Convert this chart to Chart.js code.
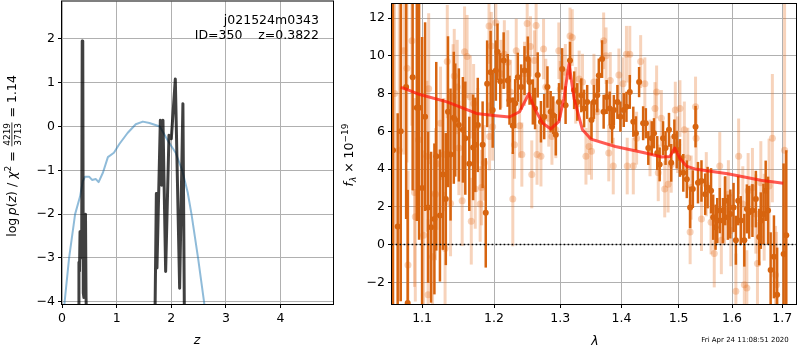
<!DOCTYPE html>
<html>
<head>
<meta charset="utf-8">
<script src="https://cdn.jsdelivr.net/npm/chart.js@4.4.1/dist/chart.umd.min.js"></script>
<style>
html, body { margin: 0; padding: 0; background: #fff; }
#wrap { position: relative; width: 800px; height: 350px; }
#pz { position: absolute; left: 0; top: 0; }
#sp { position: absolute; left: 340px; top: 0; }
</style>
</head>
<body>
<div id="wrap">
<canvas id="pz" width="340" height="350"></canvas>
<canvas id="sp" width="460" height="350"></canvas>
</div>
<script>
// left panel: log p(z)
const zPrior = [0.04, 0.13, 0.24, 0.33, 0.38, 0.42, 0.50, 0.55, 0.62, 0.67, 0.75, 0.84, 0.95, 1.05, 1.20, 1.35, 1.48, 1.60, 1.79, 1.95, 2.08, 2.20, 2.30, 2.37, 2.49, 2.60, 2.65];
const pPrior = [-4.1, -3.0, -2.0, -1.6, -1.25, -1.15, -1.15, -1.22, -1.2, -1.27, -1.05, -0.7, -0.6, -0.4, -0.15, 0.05, 0.11, 0.08, 0.0, -0.35, -0.6, -1.0, -1.5, -2.0, -3.0, -4.0, -4.6];

const zFit = [0.30, 0.31, 0.32, 0.33, 0.34, 0.36, 0.37, 0.38, 0.39, 0.40, 0.41, 0.42, 0.43, 0.44, 0.46, 1.0,
              1.696, 1.727, 1.738, 1.80, 1.824, 1.848, 1.897, 1.958, 2.001, 2.074, 2.153, 2.213, 2.244];
const pFit = [-5, -3.1, -3.3, -2.4, -3.0, -2.8, 1.95, 1.9, -3.8, -3.9, -2.5, -3.8, -2.0, -3.9, -5, null,
              -5, -1.53, -3.23, 0.14, -1.34, 0.14, -3.31, -0.2, -0.28, 1.08, -3.69, 0.52, -5];

const zTicks = [0, 1, 2, 3, 4];
const pTicks = [-4, -3, -2, -1, 0, 1, 2];

// right panel: spectrum
const lamA = [1.062, 1.068, 1.072, 1.079, 1.081, 1.0875, 1.093, 1.096, 1.100, 1.104, 1.108, 1.112, 1.1165, 1.119, 1.124, 1.128, 1.132, 1.135, 1.1385, 1.143,
  1.145, 1.150, 1.1556, 1.159, 1.1646, 1.170, 1.173, 1.1766, 1.1835, 1.188, 1.190, 1.195, 1.198, 1.2026, 1.205, 1.209, 1.214, 1.220, 1.2226, 1.2275,
  1.231, 1.235, 1.240, 1.245, 1.250, 1.2526, 1.2576, 1.261, 1.265, 1.270, 1.275, 1.280, 1.285, 1.289, 1.293, 1.298, 1.303, 1.3084, 1.3154, 1.322,
  1.327, 1.3335, 1.338, 1.343, 1.350, 1.354, 1.3595, 1.362, 1.3674, 1.370, 1.375, 1.380, 1.384, 1.387, 1.393, 1.398, 1.4037, 1.4083, 1.414, 1.420,
  1.4245, 1.430, 1.437, 1.4417, 1.446, 1.452, 1.456, 1.4617, 1.466, 1.472, 1.4765, 1.4826, 1.4866, 1.4923, 1.4965, 1.5024, 1.5085, 1.5149, 1.521, 1.526,
  1.531, 1.5355, 1.542, 1.549, 1.5535, 1.560, 1.564, 1.5685, 1.5717, 1.5765, 1.5825, 1.587, 1.592, 1.5967, 1.603, 1.6075, 1.612, 1.617, 1.624, 1.629,
  1.6335, 1.640, 1.6468, 1.6535, 1.6567, 1.662, 1.6665, 1.6713, 1.6765, 1.6832, 1.6897, 1.703, 1.7085];
const fluxA = [5.0, 0.96, 6.0, 8.35, -3.1, 8.87, 7.25, 7.25, 3.0, 6.78, 1.97, 0.92, 1.36, 4.68, 1.54, 3.72, 2.41, 7.04, 4.77, 6.72,
  6.6, 6.34, 6.08, 5.64, 4.28, 5.15, 5.29, 6.34, 5.29, 1.68, 8.52, 9.13, 7.13, 9.22, 10.22, 8.65, 9.75, 8.7, 7.65, 6.3,
  7.47, 8.87, 8.35, 9.22, 9.83, 8.61, 7.56, 7.21, 8.99, 6.51, 6.78, 8.35, 7.04, 6.86, 5.82, 7.56, 9.31, 7.39, 9.75, 8.18,
  7.56, 7.91, 7.21, 7.56, 6.6, 7.56, 7.91, 8.96, 9.83, 7.04, 7.82, 7.21, 6.25, 7.13, 7.56, 6.78, 7.13, 7.3, 8.09, 6.51,
  5.9, 8.61, 6.43, 6.43, 5.12, 5.64, 5.9, 4.85, 4.25, 5.64, 5.12, 6.08, 4.33, 5.73, 5.03, 4.59, 3.8, 3.46, 1.97, 2.94,
  6.25, 3.28, 3.37, 2.67, 3.02, 2.85, 1.45, 0.92, 1.27, 1.8, 1.27, 2.32, 1.45, 1.62, 1.97, 0.23, 2.32, 1.27, 0.23, 1.89,
  1.71, 1.8, 2.41, 0.4, 1.27, 1.62, 2.85, 1.8, -1.35, -0.65, -2.66, -0.5, 0.5];
const errA = [9.0, 6.0, 9.0, 7.0, 6.0, 6.0, 6.0, 7.0, 8.0, 5.0, 4.0, 4.0, 4.0, 5.0, 3.5, 4.0, 3.5, 4.0, 3.5, 3.5,
  3.0, 3.0, 2.8, 3.0, 2.5, 2.8, 2.5, 2.5, 2.3, 2.9, 2.3, 2.2, 2.0, 1.6, 1.5, 1.5, 1.5, 1.4, 1.3, 1.5,
  1.3, 1.3, 1.2, 1.3, 1.2, 1.2, 1.2, 1.1, 1.2, 1.1, 1.2, 1.1, 1.1, 1.0, 1.1, 1.0, 1.1, 1.0, 1.0, 1.0,
  1.0, 0.9, 1.0, 0.9, 1.0, 0.9, 0.9, 0.9, 1.0, 0.9, 0.9, 0.9, 0.9, 0.8, 0.9, 0.8, 0.9, 0.8, 0.9, 0.8,
  0.9, 0.8, 0.9, 0.8, 0.9, 0.9, 0.8, 0.9, 0.9, 0.9, 0.9, 0.9, 1.0, 0.9, 1.0, 1.0, 1.0, 1.0, 1.1, 1.0,
  1.1, 1.1, 1.1, 1.1, 1.1, 1.2, 1.2, 1.2, 1.2, 1.2, 1.2, 1.3, 1.2, 1.3, 1.3, 1.3, 1.3, 1.3, 1.4, 1.3,
  1.4, 1.4, 1.5, 1.5, 1.5, 1.6, 1.6, 1.8, 2.0, 2.2, 2.5, 4.8, 4.5];

const lamB = [1.064, 1.070, 1.076, 1.080, 1.0814, 1.0866, 1.090, 1.091, 1.0953, 1.102, 1.1065, 1.108, 1.1088, 1.114, 1.118, 1.120, 1.1248, 1.1294, 1.131, 1.134,
  1.1385, 1.142, 1.1436, 1.1477, 1.150, 1.1546, 1.158, 1.1615, 1.166, 1.1674, 1.1707, 1.173, 1.1766, 1.180, 1.182, 1.186, 1.1927, 1.1935, 1.196, 1.198,
  1.2026, 1.210, 1.215, 1.220, 1.224, 1.2275, 1.230, 1.2326, 1.2376, 1.241, 1.245, 1.249, 1.254, 1.256, 1.260, 1.2626, 1.264, 1.270, 1.274, 1.2775,
  1.282, 1.287, 1.293, 1.2977, 1.300, 1.308, 1.3154, 1.319, 1.3245, 1.330, 1.3354, 1.341, 1.346, 1.350, 1.354, 1.3595, 1.370, 1.374, 1.3785, 1.381,
  1.386, 1.3955, 1.4026, 1.4083, 1.4096, 1.414, 1.420, 1.4257, 1.4327, 1.440, 1.449, 1.4577, 1.4606, 1.4635, 1.469, 1.475, 1.481, 1.4866, 1.494, 1.4983,
  1.5024, 1.5104, 1.5167, 1.521, 1.5229, 1.531, 1.532, 1.542, 1.551, 1.560, 1.566, 1.5765, 1.5795, 1.5855, 1.593, 1.5978, 1.6075, 1.6129, 1.621, 1.624,
  1.629, 1.6315, 1.640, 1.6468, 1.650, 1.6567, 1.6635, 1.6733, 1.680, 1.6865, 1.6885, 1.705];
const fluxB = [8.0, 5.0, 10.27, 9.35, -1.08, 10.8, 2.76, 1.48, 5.56, 0.49, 4.68, -2.66, 8.26, -0.65, 2.67, 4.28, 6.43, 4.77, -0.21, 9.7,
  2.18, 7.82, 8.93, 8.35, 5.12, 2.32, 10.22, 9.97, 7.82, 1.24, 7.47, 2.94, 6.3, 2.15, 3.02, 4.33, 11.58, 5.73, 10.53, 6.25,
  11.76, 9.05, 10.09, 9.66, 8.09, 2.41, 5.29, 10.27, 6.3, 4.77, 9.05, 11.72, 10.5, 3.72, 9.75, 11.61, 4.77, 4.68, 10.36, 8.35,
  6.69, 5.73, 6.08, 10.27, 8.23, 9.13, 11.06, 10.97, 7.91, 8.78, 8.61, 4.68, 5.2, 4.94, 8.61, 7.04, 10.8, 10.01, 4.85, 8.7,
  4.16, 8.99, 8.52, 10.09, 4.16, 10.09, 4.16, 5.64, 9.7, 8.52, 5.12, 7.21, 8.09, 3.8, 6.69, 2.94, 3.2, 4.25, 7.13, 5.29,
  7.21, 6.08, 4.59, 0.66, 3.02, 7.3, 5.64, 1.36, 3.2, 1.18, -0.47, 4.16, 0.23, 1.8, 2.67, 0.75, -2.48, 4.68, 2.15, -2.13,
  -2.3, 2.85, 3.02, 1.62, -1.0, 3.28, 1.45, 3.11, 5.64, -1.61, -2.13, 5.0];
const errB = [8.0, 8.0, 5.5, 5.0, 5.0, 4.5, 5.0, 4.5, 4.0, 4.5, 4.0, 4.0, 4.0, 3.5, 3.5, 3.5, 3.0, 3.0, 3.0, 3.0,
  2.8, 2.8, 2.5, 2.5, 2.5, 2.4, 2.4, 2.2, 2.2, 2.3, 2.1, 2.1, 2.0, 2.0, 2.0, 2.0, 2.0, 1.8, 1.8, 1.8,
  1.8, 1.8, 1.8, 1.7, 1.7, 2.5, 1.8, 1.7, 1.7, 1.7, 1.7, 1.6, 1.6, 1.8, 1.6, 1.6, 1.6, 1.6, 1.6, 1.5,
  1.5, 1.5, 1.5, 1.5, 1.5, 1.5, 1.5, 1.5, 1.5, 1.5, 1.5, 1.5, 1.5, 1.5, 1.5, 1.5, 1.5, 1.5, 1.5, 1.5,
  1.5, 1.4, 1.4, 1.5, 1.5, 1.5, 1.5, 1.4, 1.4, 1.4, 1.5, 1.4, 1.4, 1.5, 1.5, 1.5, 1.5, 1.5, 1.5, 1.5,
  1.5, 1.5, 1.6, 1.7, 1.7, 1.6, 1.6, 1.7, 1.7, 1.7, 1.8, 1.8, 1.8, 1.8, 1.8, 1.9, 2.0, 2.0, 2.0, 2.0,
  2.0, 2.0, 2.1, 2.1, 2.2, 2.2, 2.3, 2.5, 3.4, 2.6, 2.8, 8.5];

const lamModel = [1.072, 1.0797, 1.097, 1.1336, 1.1748, 1.2026, 1.2226, 1.2376, 1.2516, 1.2602, 1.2727, 1.2853, 1.2977, 1.3057, 1.3138, 1.3219, 1.3354, 1.349,
  1.3895, 1.4409, 1.4698, 1.4843, 1.493, 1.5019, 1.5141, 1.5297, 1.5916, 1.6567, 1.702];
const fluxModel = [8.33, 8.23, 7.95, 7.56, 6.95, 6.83, 6.76, 7.04, 8.0, 7.21, 6.43, 6.13, 6.51, 7.74, 9.57, 7.74, 6.08, 5.59,
  5.2, 4.85, 4.64, 4.67, 5.12, 4.59, 4.16, 4.01, 3.75, 3.41, 3.25];

const lamTicks = [1.1, 1.2, 1.3, 1.4, 1.5, 1.6, 1.7];
const fluxTicks = [-2, 0, 2, 4, 6, 8, 10, 12];

const FONT = '"DejaVu Sans", sans-serif';
const minus = v => (v < 0 ? '\u2212' + Math.abs(v) : '' + v);

const errorBars = {
  id: 'errorBars',
  beforeDatasetDraw(chart, args) {
    const ds = chart.data.datasets[args.index];
    if (!ds.errors) return;
    const xs = chart.scales.x, ys = chart.scales.y, a = chart.chartArea, ctx = chart.ctx;
    ctx.save();
    ctx.beginPath();
    ctx.rect(a.left, a.top, a.right - a.left, a.bottom - a.top);
    ctx.clip();
    ctx.strokeStyle = ds.barColor;
    ctx.lineWidth = ds.barWidth;
    ds.data.forEach((p, i) => {
      const x = xs.getPixelForValue(p.x);
      ctx.beginPath();
      ctx.moveTo(x, ys.getPixelForValue(p.y - ds.errors[i]));
      ctx.lineTo(x, ys.getPixelForValue(p.y + ds.errors[i]));
      ctx.stroke();
    });
    ctx.restore();
  }
};

const frame = {
  id: 'frame',
  afterDraw(chart) {
    const a = chart.chartArea, ctx = chart.ctx;
    ctx.save();
    ctx.strokeStyle = '#000';
    ctx.lineWidth = 1;
    ctx.strokeRect(a.left - 0.5, a.top - 0.5, a.right - a.left + 1, a.bottom - a.top + 1);
    ctx.restore();
  }
};

// draw a run of text pieces, optionally rotated; piece = [text, font, dy] or {num, den, font}
function drawRich(ctx, parts, cx, cy, rotate) {
  ctx.save();
  ctx.translate(cx, cy);
  if (rotate) ctx.rotate(-Math.PI / 2);
  ctx.fillStyle = '#000';
  ctx.textBaseline = 'alphabetic';
  const widths = parts.map(p => {
    if (p.num) {
      ctx.font = p.font;
      return Math.max(ctx.measureText(p.num).width, ctx.measureText(p.den).width) + 3;
    }
    ctx.font = p[1];
    return ctx.measureText(p[0]).width;
  });
  let x = -widths.reduce((s, w) => s + w, 0) / 2;
  parts.forEach((p, i) => {
    if (p.num) {
      ctx.font = p.font;
      ctx.textAlign = 'center';
      const mid = x + widths[i] / 2;
      ctx.fillText(p.num, mid, -6);
      ctx.fillText(p.den, mid, 5);
      ctx.fillRect(x + 1, -4.5, widths[i] - 2, 0.8);
      ctx.textAlign = 'left';
    } else {
      ctx.font = p[1];
      ctx.textAlign = 'left';
      ctx.fillText(p[0], x, p[2] || 0);
    }
    x += widths[i];
  });
  ctx.restore();
}

const pzText = {
  id: 'pzText',
  afterDraw(chart) {
    const ctx = chart.ctx;
    const f = '12.5px ' + FONT, fi = 'italic 12.5px ' + FONT, fs = '9px ' + FONT;
    ctx.save();
    ctx.fillStyle = '#000';
    ctx.font = f;
    ctx.textAlign = 'right';
    ctx.fillText('j021524m0343', 319, 24);
    ctx.fillText('ID=350    z=0.3822', 319, 39);
    ctx.restore();
    drawRich(ctx, [['z', fi]], 197, 344, false);
    drawRich(ctx, [
      ['log\u2009', f], ['p', fi], ['(', f], ['z', fi], [')', f], [' / ', f], ['\u03c7', fi], ['2', fs, -5],
      [' = ', f], {num: '4219', den: '3713', font: fs}, [' = 1.14', f]
    ], 16, 156, true);
  }
};

const spText = {
  id: 'spText',
  afterDraw(chart) {
    const ctx = chart.ctx;
    const f = '12.5px ' + FONT, fi = 'italic 12.5px ' + FONT, fs = '9px ' + FONT, fsi = 'italic 9px ' + FONT;
    drawRich(ctx, [['\u03bb', fi]], 255, 345, false);
    drawRich(ctx, [['f', fi], ['\u03bb', fsi, 3], [' \u00d7 10', f], ['\u221219', fs, -5]], 13, 155, true);
    ctx.save();
    ctx.font = '7px ' + FONT;
    ctx.fillStyle = '#000';
    ctx.textAlign = 'center';
    ctx.fillText('Fri Apr 24 11:08:51 2020', 405, 342);
    ctx.restore();
  }
};

// fixed axis box sizes, no extra padding for overhanging labels
function fitX(s) { s.height = 46; s.paddingLeft = 0; s.paddingRight = 0; }
function fitY(w) { return s => { s.width = w; s.paddingTop = 0; s.paddingBottom = 0; }; }

function axisStyle(extra) {
  return Object.assign({
    grid: { color: '#b0b0b0', lineWidth: 1, tickColor: '#000', tickLength: 4, tickWidth: 1 },
    border: { display: false },
    ticks: { color: '#000', font: { family: FONT, size: 12.5 }, padding: 3, autoSkip: false, maxRotation: 0 }
  }, extra);
}

new Chart(document.getElementById('pz'), {
  type: 'line',
  data: {
    datasets: [
      { data: zPrior.map((z, i) => ({ x: z, y: pPrior[i] })), borderColor: 'rgba(31,119,180,0.5)', borderWidth: 2,
        borderJoinStyle: 'round', pointRadius: 0, order: 2, clip: 0 },
      { data: zFit.map((z, i) => ({ x: z, y: pFit[i] })), borderColor: 'rgba(0,0,0,0.75)', borderWidth: 3,
        borderJoinStyle: 'round', pointRadius: 0, order: 1, clip: 0, spanGaps: false }
    ]
  },
  options: {
    responsive: false,
    animation: false,
    layout: { padding: { top: 1, right: 7, left: 0, bottom: 0 } },
    plugins: { legend: { display: false }, tooltip: { enabled: false } },
    scales: {
      x: axisStyle({ type: 'linear', min: 0, max: 4.96,
        afterBuildTicks: s => { s.ticks = zTicks.map(v => ({ value: v })); },
        afterFit: fitX }),
      y: axisStyle({ type: 'linear', min: -4.05, max: 2.85,
        afterBuildTicks: s => { s.ticks = pTicks.map(v => ({ value: v })); },
        afterFit: fitY(62) })
    }
  },
  plugins: [frame, pzText]
});
Chart.getChart('pz').options.scales.x.ticks.callback = v => minus(v);
Chart.getChart('pz').options.scales.y.ticks.callback = v => minus(v);
Chart.getChart('pz').update();

const dark = 'rgb(215,100,15)';
const light = 'rgba(230,110,30,0.3)';

new Chart(document.getElementById('sp'), {
  type: 'scatter',
  data: {
    datasets: [
      { data: lamB.map((l, i) => ({ x: l, y: fluxB[i] })), errors: errB, barColor: light, barWidth: 3,
        backgroundColor: light, pointRadius: 3.5, pointBorderWidth: 0, order: 4, clip: 0 },
      { data: lamA.map((l, i) => ({ x: l, y: fluxA[i] })), errors: errA, barColor: dark, barWidth: 2.5,
        backgroundColor: dark, pointRadius: 3, pointBorderWidth: 0, order: 3, clip: 0 },
      { type: 'line', data: lamModel.map((l, i) => ({ x: l, y: fluxModel[i] })), borderColor: 'rgba(255,20,10,0.7)',
        borderWidth: 3, borderJoinStyle: 'round', pointRadius: 0, order: 2, clip: 0 },
      { type: 'line', data: [{ x: 1.05, y: 0 }, { x: 1.74, y: 0 }], borderColor: '#000', borderWidth: 1.6,
        borderDash: [1.6, 2.4], pointRadius: 0, order: 1, clip: 0 }
    ]
  },
  options: {
    responsive: false,
    animation: false,
    layout: { padding: { top: 1, right: 1, left: 0, bottom: 0 } },
    plugins: { legend: { display: false }, tooltip: { enabled: false } },
    scales: {
      x: axisStyle({ type: 'logarithmic', min: 1.0607, max: 1.7287,
        afterBuildTicks: s => { s.ticks = lamTicks.map(v => ({ value: v })); },
        afterFit: fitX }),
      y: axisStyle({ type: 'linear', min: -3.15, max: 12.75,
        afterBuildTicks: s => { s.ticks = fluxTicks.map(v => ({ value: v })); },
        afterFit: fitY(52) })
    }
  },
  plugins: [errorBars, frame, spText]
});
Chart.getChart('sp').options.scales.x.ticks.callback = v => v.toFixed(1);
Chart.getChart('sp').options.scales.y.ticks.callback = v => minus(v);
Chart.getChart('sp').update();
</script>
</body>
</html>
